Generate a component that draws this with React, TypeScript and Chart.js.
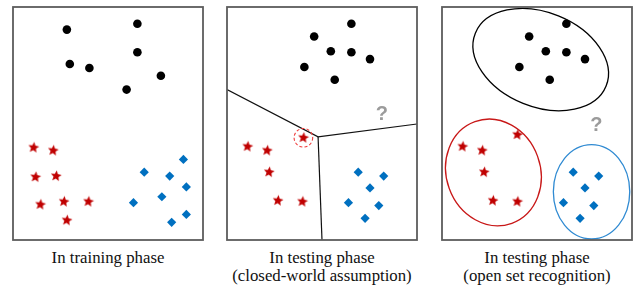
import React, { useEffect, useRef } from 'react';
import { Chart, registerables } from 'chart.js';

Chart.register(...registerables);

// ---- data (panel units: x 0..19.4, y 0..23.7, y upward) ----
const X_MAX = 19.4;
const Y_MAX = 23.7;

const trainCircles = [[5.5, 21.4], [12.7, 22.0], [12.7, 19.1], [5.8, 17.9], [7.8, 17.5], [15.1, 16.7], [11.6, 15.3]];
const trainStars = [[2.1, 9.4], [4.1, 9.1], [2.3, 6.4], [4.4, 6.5], [2.8, 3.6], [5.2, 3.9], [7.7, 3.9], [5.5, 2.0]];
const trainDiamonds = [[17.4, 8.2], [13.4, 6.9], [16.0, 6.5], [17.7, 5.4], [15.2, 4.4], [12.3, 3.8], [17.7, 2.6], [16.2, 1.8]];

const testCircles = [[12.7, 22.0], [8.9, 20.7], [10.6, 19.2], [12.7, 19.1], [14.6, 18.4], [7.9, 17.6], [11.0, 16.3]];
const closedStars = [[7.8, 10.4], [2.1, 9.5], [4.1, 9.1], [4.3, 6.9], [5.2, 4.0], [7.7, 3.9]];
const openStars = [[7.7, 10.7], [2.1, 9.5], [4.1, 9.1], [4.3, 6.9], [5.2, 4.0], [7.7, 3.9]];
const testDiamonds = [[13.4, 6.9], [16.0, 6.5], [14.6, 5.3], [12.4, 3.8], [15.5, 3.5], [14.1, 2.2]];

const closedBoundaryA = [[0, 15.3], [9.3, 10.5], [19.4, 11.8]];
const closedBoundaryB = [[9.3, 10.5], [9.7, 0]];
const closedMisfit = { x: 7.8, y: 10.4, r: 0.95 };
const closedUnknown = { x: 15.8, y: 12.9 };
const openUnknown = { x: 15.75, y: 11.75 };

// open-set regions: centre, semi-axes (data units), tilt (degrees, screen)
const openRegionBlack = { cx: 10.08, cy: 18.35, rx: 7.2, ry: 4.8, tilt: 22 };
const openRegionRed = { cx: 5.25, cy: 6.87, rx: 4.8, ry: 5.5, tilt: -20 };
const openRegionBlue = { cx: 15.27, cy: 4.9, rx: 3.9, ry: 4.8, tilt: 0 };

const captions = [
  ['In training phase'],
  ['In testing phase', '(closed-world assumption)'],
  ['In testing phase', '(open set recognition)'],
];

// ---- styles ----
const BLACK = '#000000';
const RED = '#C00000';
const BLUE = '#0070C0';
const PANEL_LEFTS = [11, 225, 440];
const PANEL_TOP = 5;
const PANEL_W = 194;
const PANEL_H = 237;
const PAD = 3;

function makeStar(color: string, outer: number, inner: number) {
  const size = Math.ceil(outer * 2 + 2);
  const c = document.createElement('canvas');
  c.width = size;
  c.height = size;
  const ctx = c.getContext('2d')!;
  ctx.fillStyle = color;
  ctx.beginPath();
  const cx = size / 2, cy = size / 2;
  for (let i = 0; i < 10; i++) {
    const r = i % 2 === 0 ? outer : inner;
    const a = -Math.PI / 2 + (i * Math.PI) / 5 + 0.12;
    const px = cx + r * Math.cos(a);
    const py = cy + r * Math.sin(a);
    if (i === 0) ctx.moveTo(px, py);
    else ctx.lineTo(px, py);
  }
  ctx.closePath();
  ctx.fill();
  return c;
}

const toPts = (arr: number[][]) => arr.map(([x, y]) => ({ x, y }));

type Ellipse = { cx: number; cy: number; rx: number; ry: number; tilt: number };

interface PanelSpec {
  circles: number[][];
  stars: number[][];
  diamonds: number[][];
  lines?: number[][][];
  misfit?: { x: number; y: number; r: number };
  unknown?: { x: number; y: number };
  ellipses?: { e: Ellipse; color: string }[];
}

const panels: PanelSpec[] = [
  { circles: trainCircles, stars: trainStars, diamonds: trainDiamonds },
  {
    circles: testCircles,
    stars: closedStars,
    diamonds: testDiamonds,
    lines: [closedBoundaryA, closedBoundaryB],
    misfit: closedMisfit,
    unknown: closedUnknown,
  },
  {
    circles: testCircles,
    stars: openStars,
    diamonds: testDiamonds,
    unknown: openUnknown,
    ellipses: [
      { e: openRegionBlack, color: '#000000' },
      { e: openRegionRed, color: '#C81818' },
      { e: openRegionBlue, color: '#2F8AD2' },
    ],
  },
];

function Panel({ spec, left }: { spec: PanelSpec; left: number }) {
  const ref = useRef<HTMLCanvasElement>(null);
  useEffect(() => {
    const canvas = ref.current!;
    const star = makeStar(RED, 5.7, 2.6);
    const datasets: any[] = [];
    (spec.lines || []).forEach((l) => {
      datasets.push({
        data: toPts(l),
        showLine: true,
        borderColor: '#111111',
        borderWidth: 1.2,
        pointRadius: 0,
        fill: false,
        tension: 0,
      });
    });
    datasets.push({
      data: toPts(spec.circles),
      pointStyle: 'circle',
      pointRadius: 4.3,
      backgroundColor: BLACK,
      borderWidth: 0,
    });
    datasets.push({
      data: toPts(spec.stars),
      pointStyle: star,
      pointRadius: 5,
      backgroundColor: RED,
      borderWidth: 0,
    });
    datasets.push({
      data: toPts(spec.diamonds),
      pointStyle: 'rectRot',
      pointRadius: 4.6,
      backgroundColor: BLUE,
      borderColor: BLUE,
      borderWidth: 0,
    });

    const decor = {
      id: 'decor',
      afterDatasetsDraw(chart: any) {
        const ctx = chart.ctx;
        const xs = chart.scales.x;
        const ys = chart.scales.y;
        const px = (v: number) => xs.getPixelForValue(v);
        const py = (v: number) => ys.getPixelForValue(v);
        ctx.save();
        (spec.ellipses || []).forEach(({ e, color }) => {
          const rxp = px(e.cx + e.rx) - px(e.cx);
          const ryp = py(e.cy) - py(e.cy + e.ry);
          ctx.beginPath();
          ctx.ellipse(px(e.cx), py(e.cy), rxp, ryp, (e.tilt * Math.PI) / 180, 0, Math.PI * 2);
          ctx.strokeStyle = color;
          ctx.lineWidth = 1.3;
          ctx.stroke();
        });
        if (spec.misfit) {
          const m = spec.misfit;
          const r = px(m.x + m.r) - px(m.x);
          ctx.beginPath();
          ctx.setLineDash([3, 2.2]);
          ctx.arc(px(m.x), py(m.y), r, 0, Math.PI * 2);
          ctx.strokeStyle = '#F03A3A';
          ctx.lineWidth = 1.1;
          ctx.stroke();
          ctx.setLineDash([]);
        }
        if (spec.unknown) {
          ctx.fillStyle = '#9B9B9B';
          ctx.font = 'bold 20px "Liberation Sans", Arial, sans-serif';
          ctx.textAlign = 'center';
          ctx.textBaseline = 'middle';
          ctx.fillText('?', px(spec.unknown.x), py(spec.unknown.y) + 1);
        }
        const a = chart.chartArea;
        ctx.strokeStyle = '#5c5c5c';
        ctx.lineWidth = 1.8;
        ctx.strokeRect(a.left, a.top, a.right - a.left, a.bottom - a.top);
        ctx.restore();
      },
    };

    const chart = new Chart(canvas, {
      type: 'scatter',
      data: { datasets },
      options: {
        animation: false,
        responsive: false,
        maintainAspectRatio: false,
        events: [],
        layout: { padding: PAD },
        plugins: { legend: { display: false }, tooltip: { enabled: false }, title: { display: false } },
        scales: {
          x: { type: 'linear', min: 0, max: X_MAX, display: false },
          y: { type: 'linear', min: 0, max: Y_MAX, display: false },
        },
      },
      plugins: [decor],
    } as any);
    return () => chart.destroy();
  }, [spec]);
  return (
    <canvas
      ref={ref}
      width={PANEL_W + PAD * 2}
      height={PANEL_H + PAD * 2}
      style={{
        position: 'absolute',
        left: left - PAD,
        top: PANEL_TOP - PAD,
        width: PANEL_W + PAD * 2,
        height: PANEL_H + PAD * 2,
      }}
    />
  );
}

export default function App() {
  return (
    <div
      style={{
        position: 'fixed',
        left: 0,
        top: 0,
        width: 637,
        height: 290,
        background: '#ffffff',
        overflow: 'hidden',
      }}
    >
      {panels.map((p, i) => (
        <Panel key={i} spec={p} left={PANEL_LEFTS[i]} />
      ))}
      {captions.map((lines, i) => (
        <div
          key={'c' + i}
          style={{
            position: 'absolute',
            left: PANEL_LEFTS[i] - 10,
            width: PANEL_W + 20,
            top: 249,
            textAlign: 'center',
            fontFamily: '"Liberation Serif", "Times New Roman", serif',
            fontSize: 16.8,
            lineHeight: '18px',
            color: '#111',
          }}
        >
          {lines.map((t, j) => (
            <div key={j}>{t}</div>
          ))}
        </div>
      ))}
    </div>
  );
}
